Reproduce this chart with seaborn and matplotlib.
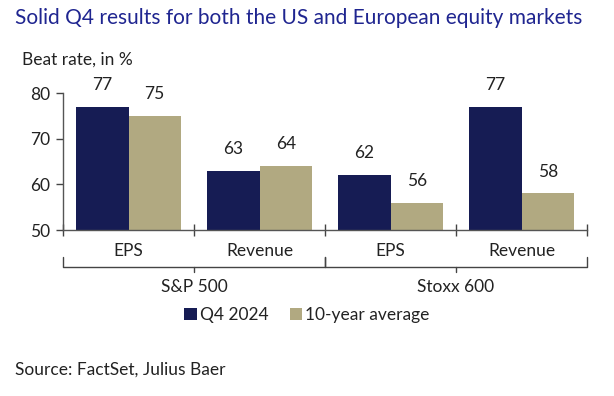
import matplotlib
matplotlib.use("Agg")
import matplotlib.pyplot as plt
import seaborn as sns
import pandas as pd

# data
slots = ["S&P EPS", "S&P Revenue", "Stoxx EPS", "Stoxx Revenue"]
tick_labels = ["EPS", "Revenue", "EPS", "Revenue"]
groups = ["S&P 500", "Stoxx 600"]
q4_2024 = [77, 63, 62, 77]
ten_year_avg = [75, 64, 56, 58]
series_names = ["Q4 2024", "10-year average"]

NAVY = "#161c54"
BEIGE = "#b1a981"
TEXT = "#222222"
FS = 12.5


def main():
    sns.set_theme(style="white")
    plt.rcParams["font.family"] = ["Lato", "DejaVu Sans"]

    df = pd.DataFrame({
        "slot": slots * 2,
        "value": q4_2024 + ten_year_avg,
        "series": [series_names[0]] * 4 + [series_names[1]] * 4,
    })

    fig = plt.figure(figsize=(6.14, 3.96), dpi=100)
    ax = fig.add_axes([63 / 614, 1 - 230 / 396, 524 / 614, 137 / 396])
    sns.barplot(df, x="slot", y="value", hue="series", order=slots,
                hue_order=series_names, palette=[NAVY, BEIGE], width=0.8,
                saturation=1, linewidth=0, ax=ax)

    for c in ax.containers:
        ax.bar_label(c, padding=10, fontsize=FS, color=TEXT, clip_on=False)

    ax.set_ylim(50, 80)
    ax.set_xlim(-0.5, 3.5)
    ax.set_yticks([50, 60, 70, 80])
    ax.set_xticks(range(4))
    ax.set_xticklabels(tick_labels)
    ax.set_xticks([-0.5, 0.5, 1.5, 2.5, 3.5], minor=True)
    ax.set_xlabel("")
    ax.set_ylabel("")
    ax.tick_params(axis="x", which="major", length=0, pad=9,
                   labelsize=FS, labelcolor=TEXT)
    ax.tick_params(axis="x", which="minor", direction="inout", length=8,
                   width=1, color="#444444", bottom=True)
    ax.tick_params(axis="y", direction="out", length=5, width=1,
                   color="#444444", left=True, labelsize=FS,
                   labelcolor=TEXT, pad=4)
    sns.despine(ax=ax)
    for s in ["left", "bottom"]:
        ax.spines[s].set_color("#555555")
        ax.spines[s].set_linewidth(1)

    # group braces under the category labels
    tr = ax.get_xaxis_transform()
    y_top, y_bot, y_tip = -0.197, -0.27, -0.31
    for i, name in enumerate(groups):
        x0, x1 = -0.5 + 2 * i, 1.5 + 2 * i
        xm = (x0 + x1) / 2
        ax.plot([x0, x0, x1, x1], [y_top, y_bot, y_bot, y_top],
                transform=tr, color="#444444", lw=1, clip_on=False)
        ax.plot([xm, xm], [y_bot, y_tip], transform=tr, color="#444444",
                lw=1, clip_on=False)
        ax.text(xm, -0.416, name, transform=tr, ha="center", va="center",
                fontsize=FS, color=TEXT)

    ax.get_legend().remove()
    handles, labels = ax.get_legend_handles_labels()
    fig.legend(handles, labels, loc="center", bbox_to_anchor=(0.5, 1 - 315 / 396),
               ncol=2, frameon=False, fontsize=FS, handlelength=0.7,
               handleheight=0.7, handletextpad=0.2, columnspacing=1.2,
               labelcolor=TEXT)

    fig.text(15 / 614, 1 - 18 / 396,
             "Solid Q4 results for both the US and European equity markets",
             fontsize=15, color="#1f2590", va="center", ha="left")
    fig.text(22 / 614, 1 - 60 / 396, "Beat rate, in %", fontsize=FS,
             color=TEXT, va="center", ha="left")
    fig.text(15 / 614, 1 - 370 / 396, "Source: FactSet, Julius Baer",
             fontsize=FS, color=TEXT, va="center", ha="left")

    fig.savefig("out.png", dpi=100)


if __name__ == "__main__":
    main()
